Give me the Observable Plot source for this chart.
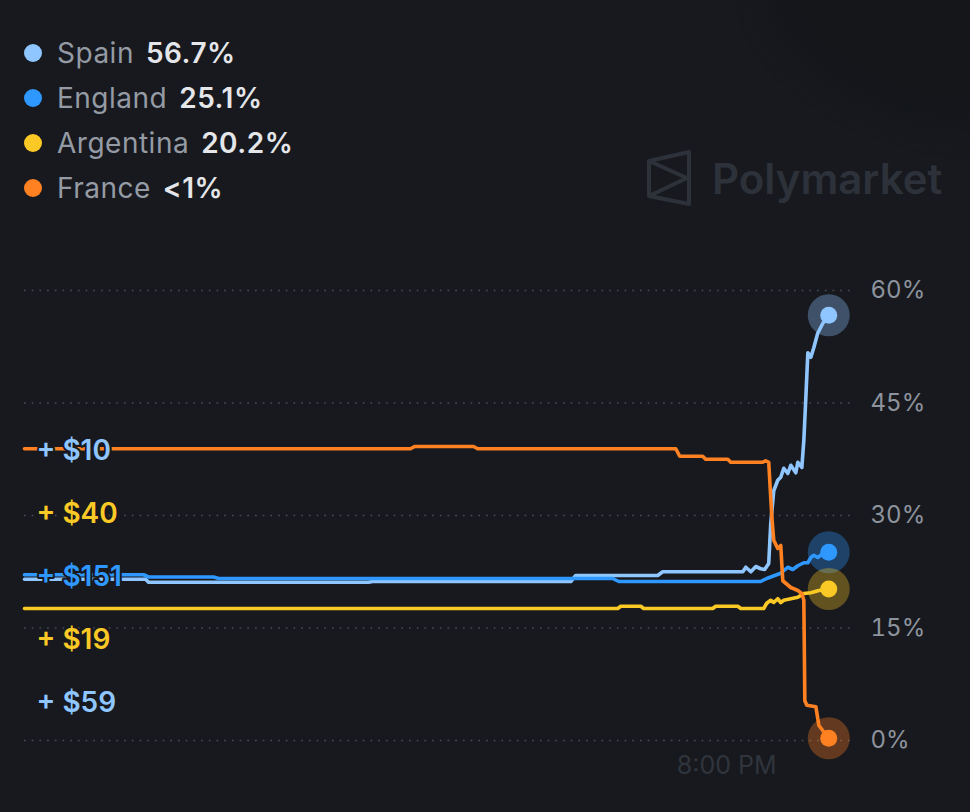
<!DOCTYPE html>
<html><head><meta charset="utf-8">
<script src="https://cdn.jsdelivr.net/npm/d3@7"></script>
<script src="https://cdn.jsdelivr.net/npm/@observablehq/plot@0.6"></script>
<style>
html,body{margin:0;padding:0;background:#17191e;}
#wrap{position:relative;width:970px;height:812px;overflow:hidden;font-family:Inter,"Noto Sans",sans-serif;background:#17191e;}
#shade{position:absolute;left:760px;top:-70px;width:330px;height:190px;border-radius:50%;background:#121418;opacity:0.55;filter:blur(14px);transform:rotate(18deg);}
#chart{position:absolute;left:0;top:0;}
#legend{position:absolute;left:24px;top:30px;}
.row{display:flex;align-items:center;height:45px;font-size:28px;letter-spacing:0.5px;}
.dot{width:18px;height:18px;border-radius:50%;margin-right:15px;}
.name{color:#959ba4;margin-right:12px;}
.val{color:#e4e6ea;font-weight:600;}
#wm{position:absolute;left:646px;top:150px;display:flex;align-items:center;color:#2d323a;font-size:42px;font-weight:600;}
#wm svg{margin-right:20px;}
</style></head>
<body>
<div id="wrap">
  <div id="shade"></div>
  <div id="chart"></div>
  <div id="legend"></div>
  <div id="wm">
    <svg width="46" height="56" viewBox="0 0 46 56"><path d="M3,11 L43,2 L43,54 L3,46 Z M3,11 L41,28 L3,46" fill="none" stroke="#2d323a" stroke-width="4" stroke-linejoin="round"/></svg>
    <span>Polymarket</span>
  </div>
</div>
<script>
// ---- data (time in minutes after 1:00 PM, value in %) ----
const seriesNames = ["Spain", "England", "Argentina", "France"];
const seriesColors = ["#8fc6ff", "#2f98ff", "#fbc925", "#ff8122"];
const legendValues = ["56.7%", "25.1%", "20.2%", "<1%"];

const spainMinutes = [0,72.4,74.2,205.8,208.2,326.7,329.7,378.7,381.7,429.6,431.4,434.4,437.4,440.3,442.7,445.1,446.3,448.1,450.5,452.3,454.1,456.5,458.3,461.3,462.5,464.9,466.1,467.3,468.5,470.3,472.1,474.4,477.4,481.0];
const spainValues  = [21.5,21.5,21.1,21.1,21.2,21.2,22.0,22.0,22.5,22.5,23.1,22.5,23.2,22.9,22.8,23.6,28.9,33.3,34.7,35.1,36.3,35.6,36.7,35.7,37.1,36.4,40.0,45.7,51.7,51.1,52.4,54.3,55.6,56.7];

const englandMinutes = [0,71.2,74.2,113.1,116.1,351.8,355.4,440.3,443.9,452.3,456.5,459.5,462.5,466.1,468.5,470.3,472.1,474.4,477.4,481.0];
const englandValues  = [22.1,22.1,21.8,21.8,21.6,21.6,21.2,21.2,21.6,22.3,23.1,22.8,23.3,23.7,23.7,24.4,24.7,24.4,24.9,25.1];

const argentinaMinutes = [0,354.8,356.6,368.6,370.3,411.6,413.4,426.6,428.4,442.1,443.9,446.3,448.1,450.5,452.3,454.1,458.3,462.5,466.1,470.3,475.1,481.0];
const argentinaValues  = [17.6,17.6,17.9,17.9,17.6,17.6,17.9,17.9,17.6,17.6,18.3,18.7,18.4,18.9,18.4,18.7,18.9,19.1,19.6,19.7,20.0,20.2];

const franceMinutes = [0,230.9,233.3,268.6,271.0,389.5,391.9,405.6,407.4,420.6,422.4,441.5,443.3,445.1,447.0,448.1,450.5,452.3,453.5,458.3,462.5,464.9,466.1,466.7,467.9,473.3,475.1,481.0];
const franceValues  = [38.9,38.9,39.2,39.2,38.9,38.9,37.9,37.9,37.5,37.5,37.1,37.1,37.3,37.1,29.7,26.7,25.6,26.0,21.3,20.4,20.0,19.6,18.7,5.3,4.7,4.5,2.0,0.3];

const yTicks = [0, 15, 30, 45, 60];
const xTickMinute = 420; // 8:00 PM
const domainEndMinute = 497;

const betLabels = ["+ $10", "+ $40", "+ $151", "+ $19", "+ $59"];
const betSeries = ["Spain", "Argentina", "England", "Argentina", "Spain"];

// ---- build ----
const bg = "#17191e";
const base = new Date(2022, 11, 18, 13, 0, 0);
const toDate = m => new Date(base.getTime() + m * 60000);
const colorOf = Object.fromEntries(seriesNames.map((n, i) => [n, seriesColors[i]]));
const seriesData = [
  [spainMinutes, spainValues],
  [englandMinutes, englandValues],
  [argentinaMinutes, argentinaValues],
  [franceMinutes, franceValues]
].map(([ms, vs], k) => ms.map((m, i) => ({name: seriesNames[k], t: toDate(m), v: vs[i]})));
const lastPoints = seriesData.map(s => s[s.length - 1]);

// legend
const legend = document.getElementById("legend");
seriesNames.forEach((n, i) => {
  const row = document.createElement("div");
  row.className = "row";
  row.innerHTML = `<span class="dot" style="background:${seriesColors[i]}"></span><span class="name">${n}</span><span class="val">${legendValues[i]}</span>`;
  legend.appendChild(row);
});

const marks = [
  Plot.ruleY(yTicks, {stroke: "#464b54", strokeWidth: 1.7, strokeDasharray: "1.7,6"}),
  ...seriesData.map(s => Plot.line(s, {x: "t", y: "v", stroke: colorOf[s[0].name], strokeWidth: 3.6, strokeLinejoin: "round", strokeLinecap: "round"})),
  Plot.dot(lastPoints, {x: "t", y: "v", r: 21, fill: d => colorOf[d.name], fillOpacity: 0.33}),
  Plot.dot(lastPoints, {x: "t", y: "v", r: 8.5, fill: d => colorOf[d.name]}),
  Plot.text([toDate(xTickMinute)], {x: d => d, frameAnchor: "bottom", dy: 25, text: d => d3.timeFormat("%-I:%M %p")(d), fill: "#30353d", fontSize: 25, lineAnchor: "middle"}),
  ...betLabels.map((b, i) => Plot.text([b], {
    frameAnchor: "top-left", dx: 12, dy: 161 + i * 63, text: d => d,
    fill: colorOf[betSeries[i]], fontSize: 28, fontWeight: 600, textAnchor: "start", lineAnchor: "middle",
    stroke: bg, strokeWidth: 4, paintOrder: "stroke"
  }))
];

const chart = Plot.plot({
  width: 970, height: 812,
  marginLeft: 24, marginRight: 115, marginTop: 290, marginBottom: 72,
  style: {background: "transparent", color: "#8d939c", fontFamily: "Inter, 'Noto Sans', sans-serif", fontSize: "24px", overflow: "visible"},
  x: {type: "time", domain: [toDate(0), toDate(domainEndMinute)], axis: null},
  y: {domain: [0, 60], ticks: yTicks, tickFormat: d => d + "%", tickSize: 0, tickPadding: 15, label: null, axis: "right"},
  marks
});
document.getElementById("chart").appendChild(chart);
</script>
</body></html>
